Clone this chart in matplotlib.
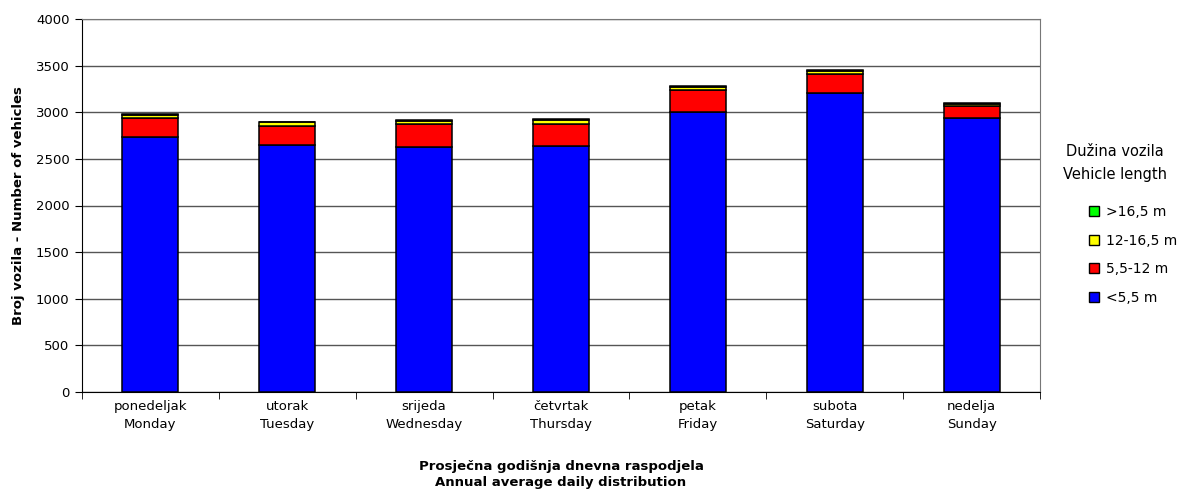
import matplotlib
matplotlib.use("Agg")
import matplotlib.pyplot as plt
import numpy as np
from matplotlib.patches import Patch

categories = ["ponedeljak\nMonday", "utorak\nTuesday", "srijeda\nWednesday",
              "četvrtak\nThursday", "petak\nFriday", "subota\nSaturday", "nedelja\nSunday"]
series_names = ["<5,5 m", "5,5-12 m", "12-16,5 m", ">16,5 m"]
lt_5_5 = [2735, 2650, 2630, 2640, 3005, 3210, 2935]
m5_5_12 = [206, 202, 240, 230, 235, 200, 135]
m12_16_5 = [30, 40, 38, 45, 35, 35, 22]
gt_16_5 = [5, 4, 5, 10, 5, 5, 4]
colors = ["#0000FF", "#FF0000", "#FFFF00", "#00FF00"]
yticks = [0, 500, 1000, 1500, 2000, 2500, 3000, 3500, 4000]

plt.rcParams['font.family'] = ['DejaVu Sans']
fig = plt.figure(figsize=(11.92, 5.0), dpi=100)
ax = fig.add_axes([82/1192, 1-392/500, (1040-82)/1192, (392-19)/500])

x = np.arange(len(categories))
bottom = np.zeros(len(categories))
for vals, col in zip([lt_5_5, m5_5_12, m12_16_5, gt_16_5], colors):
    ax.bar(x, vals, width=0.41, bottom=bottom, color=col, edgecolor="black", linewidth=1.1, zorder=3)
    bottom += np.array(vals)

ax.set_xlim(-0.5, len(categories) - 0.5)
ax.set_ylim(0, 4000)
ax.set_yticks(yticks)
ax.set_yticklabels([str(v) for v in yticks], fontsize=9.5)
ax.yaxis.grid(True, color="#555555", linewidth=1, zorder=0)
ax.set_xticks(x)
ax.set_xticklabels(categories, fontsize=9.5, linespacing=1.45)
ax.tick_params(axis='x', length=0, pad=6)
ax.set_xticks(np.arange(-0.5, len(categories), 1), minor=True)
ax.tick_params(axis='x', which='minor', length=5, color="black")
ax.tick_params(axis='y', length=5, color="black", pad=4)
for s in ["top", "right"]:
    ax.spines[s].set_color("#777777")
for s in ["left", "bottom"]:
    ax.spines[s].set_color("black")

ax.set_ylabel("Broj vozila - Number of vehicles", fontsize=9.5, fontweight="bold", labelpad=8)
ax.set_xlabel("Prosječna godišnja dnevna raspodjela\nAnnual average daily distribution",
              fontsize=9.5, fontweight="bold", labelpad=21, linespacing=1.3)

fig.text(1115/1192, 1-163/500, "Dužina vozila\nVehicle length", ha="center", va="center",
         fontsize=10.5, linespacing=1.6)
handles = [Patch(facecolor=c, edgecolor="black", linewidth=1) for c in colors[::-1]]
fig.legend(handles, series_names[::-1], loc="upper left", bbox_to_anchor=(1089/1192, 1-205/500),
           frameon=False, fontsize=10, handlelength=0.75, handleheight=0.75, handletextpad=0.5,
           labelspacing=1.05, borderpad=0, borderaxespad=0)

fig.savefig("out.png", dpi=100)
